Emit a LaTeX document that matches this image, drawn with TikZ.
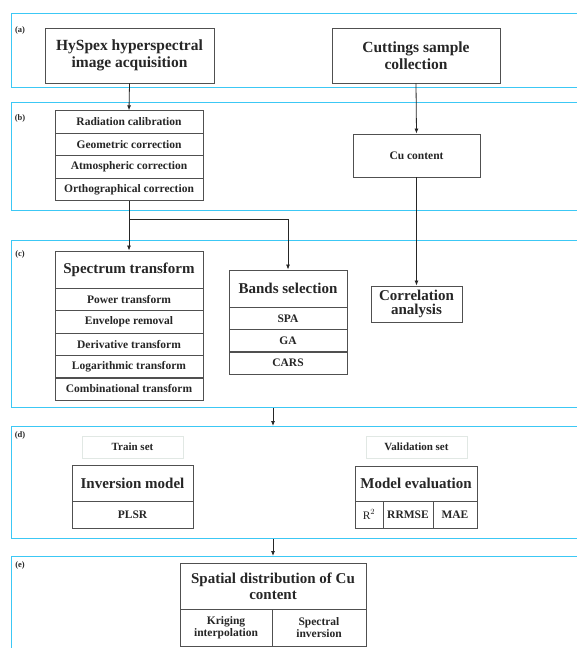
\documentclass[tikz,border=0pt]{standalone}
\usepackage{fontspec}
\setmainfont{Liberation Serif}
\usetikzlibrary{arrows.meta}
\definecolor{panelblue}{RGB}{60,200,245}
\definecolor{boxgray}{RGB}{80,80,80}
\definecolor{setgray}{RGB}{225,232,228}
\tikzset{
  panel/.style={draw=panelblue,line width=1.2pt,anchor=north west,inner sep=0pt},
  tag/.style={font=\fontsize{8.5}{10}\selectfont\bfseries,text=black!85},
  bigbox/.style={draw=boxgray,line width=0.9pt,text=black!85,align=center,inner sep=0pt,
    font=\fontsize{15.5}{17}\selectfont\bfseries},
  head/.style={draw=boxgray,line width=0.9pt,text=black!85,align=center,inner sep=0pt,
    font=\fontsize{15}{16}\selectfont\bfseries},
  cell/.style={draw=boxgray,line width=0.9pt,text=black!85,align=center,inner sep=0pt,
    font=\fontsize{11.5}{13}\selectfont\bfseries},
  setbox/.style={draw=setgray,line width=0.6pt,text=black!85,inner sep=0pt,
    font=\fontsize{11}{13}\selectfont\bfseries},
  arr/.style={-{Latex[length=5pt,width=4pt]},draw=black!85,line width=0.8pt}
}
\begin{document}
\begin{tikzpicture}[x=1pt,y=-1pt]
  \useasboundingbox (0,0) rectangle (577,648);
  \clip (0,0) rectangle (577,648);
  \fill[white] (0,0) rectangle (577,648);

  % stages
  \node[panel,minimum width=580pt,minimum height=74pt] (pa) at (11,13) {};
  \node[panel,minimum width=580pt,minimum height=108pt] (pb) at (11,102) {};
  \node[panel,minimum width=580pt,minimum height=167pt] (pc) at (11,240) {};
  \node[panel,minimum width=580pt,minimum height=112pt] (pd) at (11,426) {};
  \node[panel,minimum width=580pt,minimum height=110pt] (pe) at (11,556) {};
  \node[tag] (ta) at (20,30) {(a)};
  \node[tag] (tb) at (20,118) {(b)};
  \node[tag] (tc) at (20,254) {(c)};
  \node[tag] (td) at (20,435) {(d)};
  \node[tag] (te) at (20,565) {(e)};

  % (a)
  \node[bigbox,minimum width=169pt,minimum height=55pt] (hyspex) at (129.5,55.5)
    {HySpex hyperspectral\\image acquisition};
  \node[bigbox,minimum width=168pt,minimum height=55pt] (cuttings) at (416,55.5)
    {Cuttings sample\\collection};

  % (b)
  \begin{scope}[every node/.style={cell,minimum width=148pt,minimum height=22.5pt}]
    \node (radcal) at (129,122) {Radiation calibration};
    \node (geocor) at (129,144.5) {Geometric correction};
    \node (atmcor) at (129,167) {Atmospheric correction};
    \node (orthocor) at (129,189.5) {Orthographical correction};
  \end{scope}
  \node[cell,minimum width=127pt,minimum height=43pt] (cu) at (416.5,155.5) {Cu content};

  % (c)
  \node[head,minimum width=148pt,minimum height=37pt] (spectrum) at (129,269.5) {Spectrum transform};
  \begin{scope}[every node/.style={cell,minimum width=148pt,minimum height=22.5pt}]
    \node (power) at (129,299.5) {Power transform};
    \node (envelope) at (129,322) {Envelope removal};
    \node (deriv) at (129,344.5) {Derivative transform};
    \node (logar) at (129,367) {Logarithmic transform};
    \node (combi) at (129,389) {Combinational transform};
  \end{scope}
  \node[head,minimum width=118pt,minimum height=37pt] (bands) at (288,288.5) {Bands selection};
  \begin{scope}[every node/.style={cell,minimum width=118pt,minimum height=22.5pt}]
    \node (spa) at (288,318.5) {SPA};
    \node (ga) at (288,341) {GA};
    \node (cars) at (288,363) {CARS};
  \end{scope}
  \node[head,minimum width=91pt,minimum height=36pt] (corr) at (416.5,304)
    {Correlation\\[-2pt]analysis};

  % (d)
  \node[setbox,minimum width=101pt,minimum height=22pt] (train) at (132.5,447) {Train set};
  \node[setbox,minimum width=101pt,minimum height=22pt] (valid) at (416.5,447) {Validation set};
  \node[head,minimum width=121pt,minimum height=36pt] (invmodel) at (132.5,483) {Inversion model};
  \node[cell,minimum width=121pt,minimum height=27pt] (plsr) at (132.5,514.5) {PLSR};
  \node[head,minimum width=122pt,minimum height=35pt] (modeleval) at (416,483.5) {Model evaluation};
  \node[cell,minimum width=28pt,minimum height=27pt,font=\fontsize{11.5}{13}\selectfont] (rsq) at (369,514.5) {R$^2$};
  \node[cell,minimum width=50pt,minimum height=27pt] (rrmse) at (408,514.5) {RRMSE};
  \node[cell,minimum width=44pt,minimum height=27pt] (mae) at (455,514.5) {MAE};

  % (e)
  \node[head,minimum width=186pt,minimum height=46pt] (spatial) at (273,586)
    {Spatial distribution of Cu\\content};
  \node[cell,minimum width=92pt,minimum height=37pt,font=\fontsize{11.5}{12.5}\selectfont\bfseries] (kriging) at (226,627.5)
    {Kriging\\interpolation};
  \node[cell,minimum width=94pt,minimum height=37pt,font=\fontsize{11.5}{12.5}\selectfont\bfseries] (specinv) at (319,627.5)
    {Spectral\\inversion};

  % connectors
  \draw[arr] (hyspex.south) -- (radcal.north);
  \draw[arr] (cuttings.south) -- (cu.north);
  \draw[arr] (cu.south) -- (corr.north);
  \coordinate (split) at ([yshift=-18pt]orthocor.south);
  \draw[line width=0.8pt,draw=black!85] (orthocor.south) -- (split);
  \draw[arr] (split) -- (spectrum.north);
  \draw[arr] (split) -| (bands.north);
  \draw[arr] (pc.south -| spatial.north) -- (pd.north -| spatial.north);
  \draw[arr] (pd.south -| spatial.north) -- (pe.north -| spatial.north);
\end{tikzpicture}
\end{document}
